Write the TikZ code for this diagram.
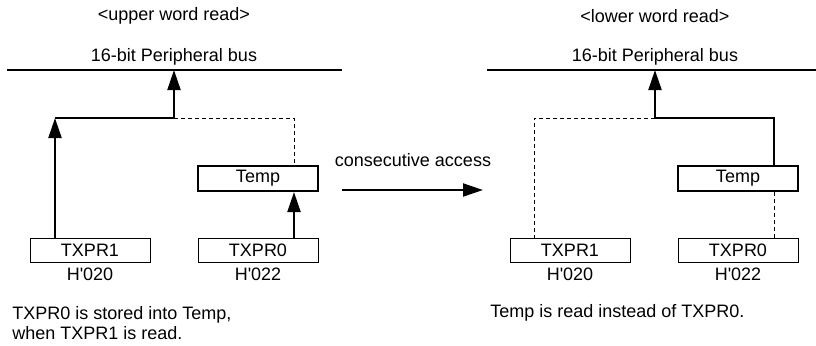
\documentclass[tikz,border=0pt]{standalone}
\usepackage{fontspec}
\newfontfamily\helv{Liberation Sans}
\usetikzlibrary{positioning,calc,arrows.meta}

\tikzset{
  regbox/.style={rectangle,draw,line width=0.5pt,minimum width=60pt,minimum height=12pt,inner sep=0pt},
  tempbox/.style={regbox,line width=1pt,minimum height=12.5pt},
  link/.style={line width=1pt},
  hidden/.style={line width=0.5pt,dash pattern=on 2pt off 1.5pt},
  up/.style={link,-{Triangle[length=10pt,width=6.5pt]}},
  note/.style={anchor=west,inner sep=0pt,align=left}
}

\begin{document}
\begin{tikzpicture}[x=0.5pt,y=-0.5pt,font=\helv\fontsize{9}{10}\selectfont]
\useasboundingbox (0,0) rectangle (816,345);

% upper word read
\node (titleU) at (174,16) {<upper word read>};
\node (buslabelU) at (174,57) {16-bit Peripheral bus};
\coordinate (busUa) at (7,70);
\coordinate (busUb) at (342,70);
\draw[link] (busUa) -- (busUb);
\node[tempbox] (tempU) at (258,178.5) {Temp};
\node[regbox] (txpr1U) at (90,250) {TXPR1};
\node[regbox] (txpr0U) at (258,250) {TXPR0};
\node (addr1U) at (90,274) {H\textquotesingle 020};
\node (addr0U) at (258,274) {H\textquotesingle 022};
\coordinate (cornerU) at (55,118);
\coordinate (joinU) at (174,118);
\coordinate (tapU) at (294,118);
\draw[up] (txpr1U.north -| cornerU) -- (cornerU);
\draw[link] (cornerU) -- (joinU);
\draw[up] (joinU) -- (joinU |- busUa);
\draw[hidden] (joinU) -- (tapU) -- (tapU |- tempU.north);
\draw[up] (tapU |- txpr0U.north) -- (tapU |- tempU.south);
\node[note] (noteU) at (12,323) {TXPR0 is stored into Temp,\\when TXPR1 is read.};

% consecutive access
\node (access) at (413,160) {consecutive access};
\coordinate (accA) at (342,190);
\coordinate (accB) at (483,190);
\draw[up] (accA) -- (accB);

% lower word read
\node (titleL) at (655,16) {<lower word read>};
\node (buslabelL) at (655,57) {16-bit Peripheral bus};
\coordinate (busLa) at (487,70);
\coordinate (busLb) at (816,70);
\draw[link] (busLa) -- (busLb);
\node[tempbox] (tempL) at (738,178.5) {Temp};
\node[regbox] (txpr1L) at (570,250) {TXPR1};
\node[regbox] (txpr0L) at (738,250) {TXPR0};
\node (addr1L) at (570,274) {H\textquotesingle 020};
\node (addr0L) at (738,274) {H\textquotesingle 022};
\coordinate (dropL) at (534,118);
\coordinate (joinL) at (655,118);
\coordinate (tapL) at (774,118);
\draw[up] (joinL) -- (joinL |- busLa);
\draw[link] (joinL) -- (tapL) -- (tapL |- tempL.north);
\draw[hidden] (joinL) -- (dropL) -- (dropL |- txpr1L.north);
\draw[hidden] (tapL |- tempL.south) -- (tapL |- txpr0L.north);
\node[note] (noteL) at (490,313) {Temp is read instead of TXPR0.};
\end{tikzpicture}
\end{document}
